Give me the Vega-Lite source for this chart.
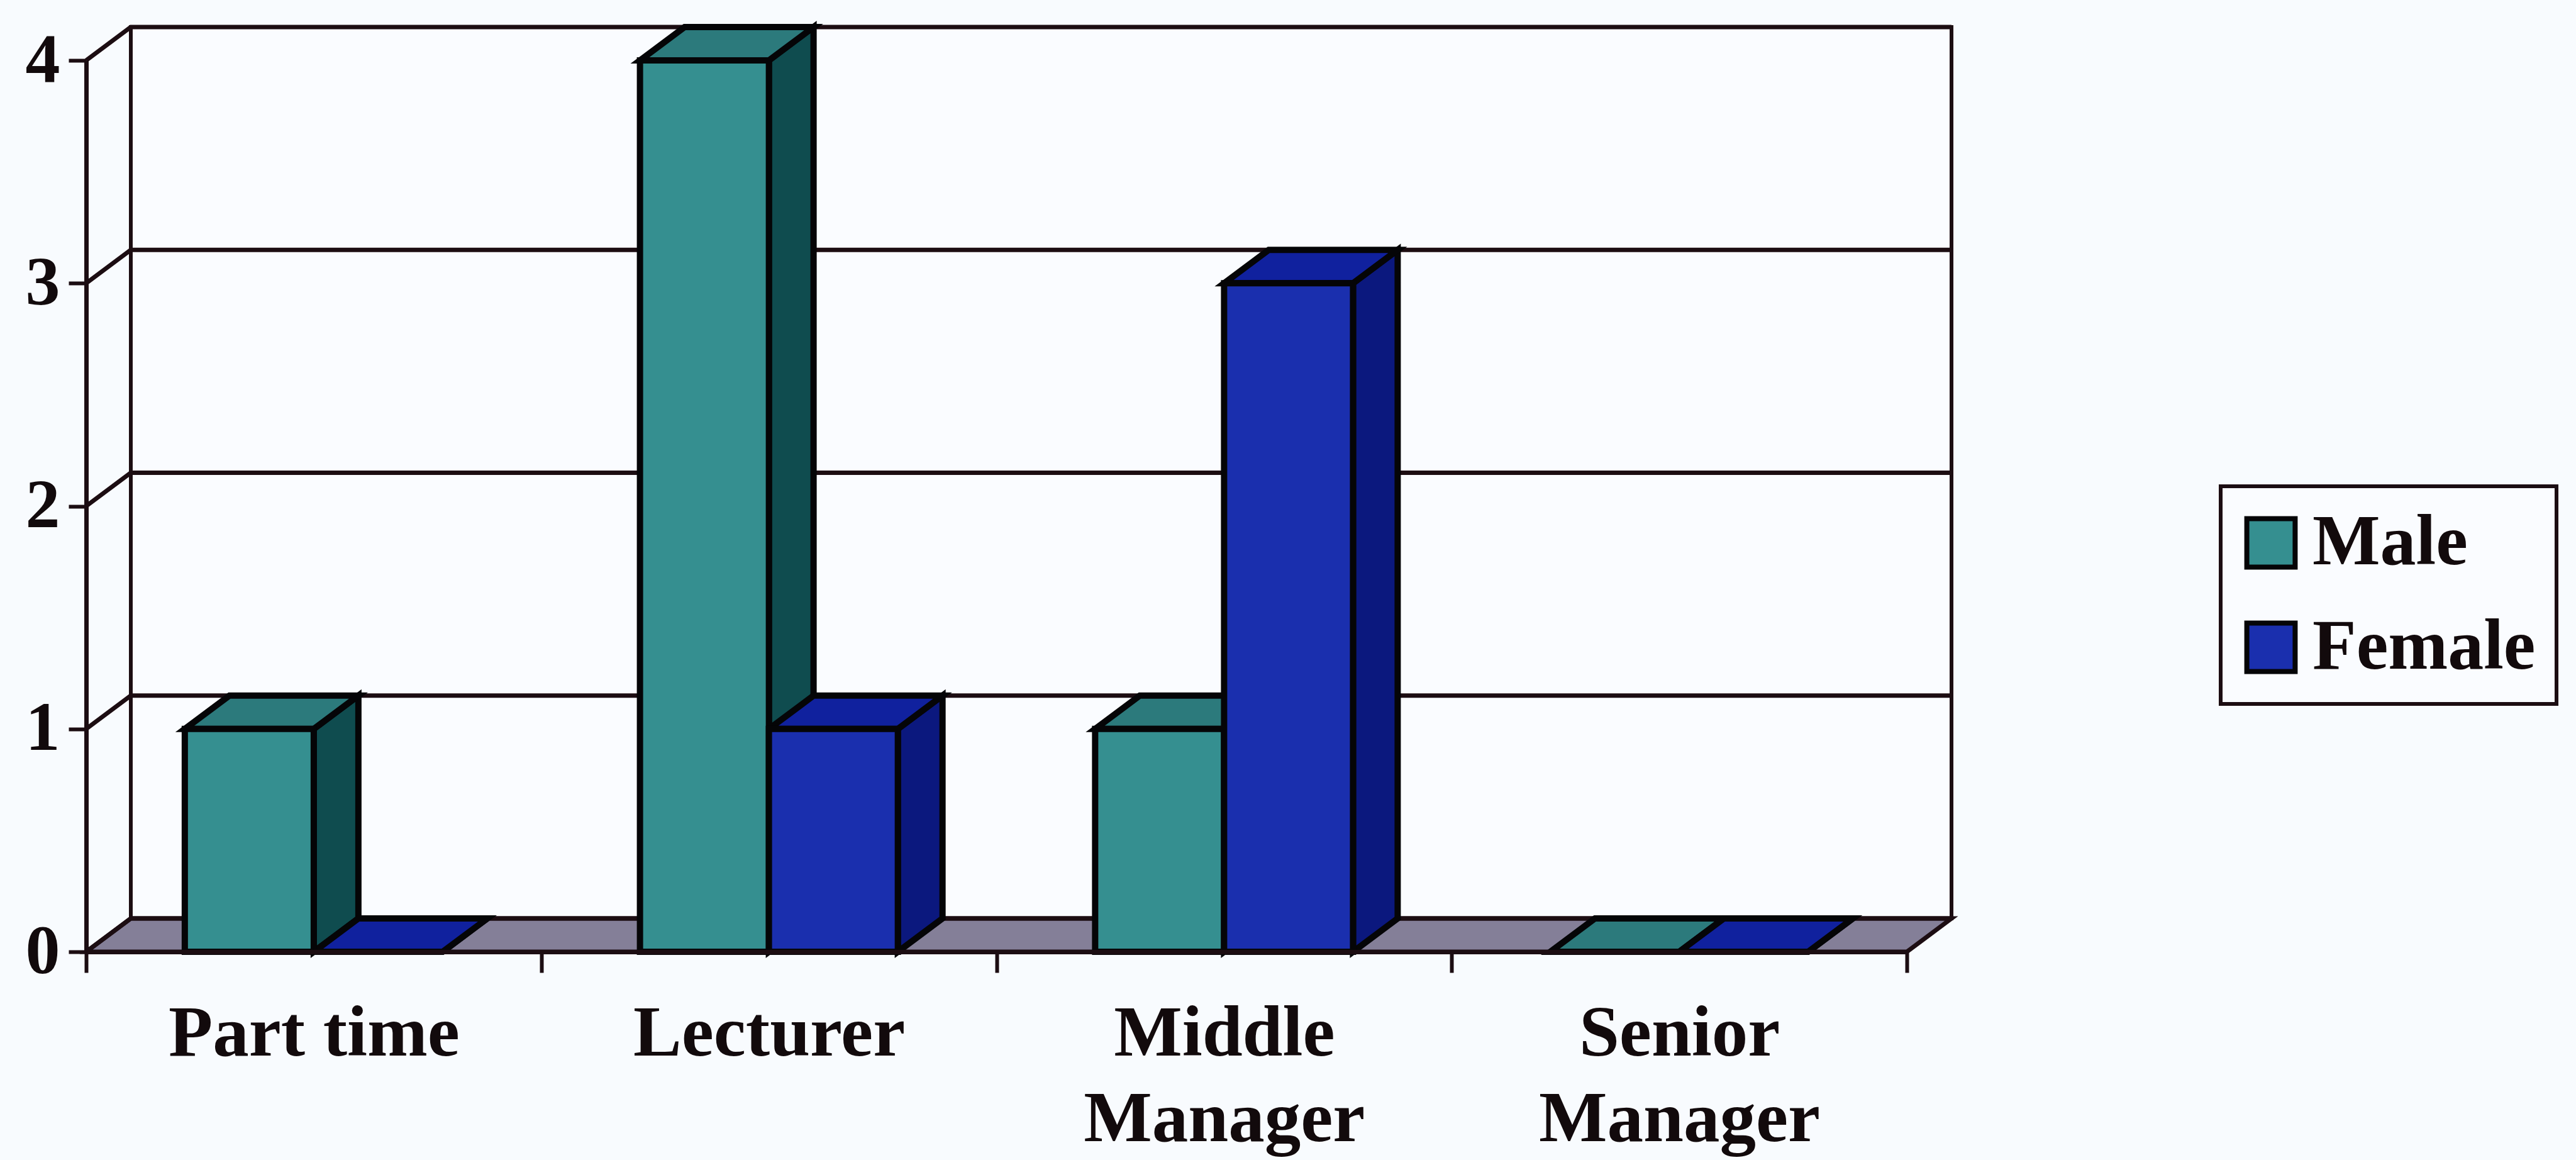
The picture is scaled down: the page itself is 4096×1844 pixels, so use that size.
{
  "$schema": "https://vega.github.io/schema/vega-lite/v6.json",
  "autosize": "none",
  "width": 2895,
  "height": 1417,
  "padding": {"left": 208, "top": 43, "right": 993, "bottom": 384},
  "background": "#f8fbfe",
  "view": {"stroke": "#1c0d12", "strokeWidth": 6, "fill": "#fafcff"},
  "config": {"legend": {"strokeWidth": 6}},
  "datasets": {
    "staff": [
      {"role": "Part time", "gender": "Male", "count": 1},
      {"role": "Part time", "gender": "Female", "count": 0},
      {"role": "Lecturer", "gender": "Male", "count": 4},
      {"role": "Lecturer", "gender": "Female", "count": 1},
      {"role": "Middle Manager", "gender": "Male", "count": 1},
      {"role": "Middle Manager", "gender": "Female", "count": 3},
      {"role": "Senior Manager", "gender": "Male", "count": 0},
      {"role": "Senior Manager", "gender": "Female", "count": 0}
    ],
    "levels": [{"level": 0}, {"level": 1}, {"level": 2}, {"level": 3}, {"level": 4}]
  },
  "layer": [
    {
      "description": "grey floor of the box",
      "data": {"values": [{"level": 0}]},
      "mark": {"type": "point", "filled": true, "opacity": 1, "fill": "#847f98", "stroke": "#1c0d12", "strokeWidth": 7, "size": 4,
        "shape": "M0 0L2895 0L2966 -53L71 -53Z"},
      "encoding": {
        "x": {"datum": "Part time", "type": "nominal", "bandPosition": 0},
        "y": {"field": "level", "type": "quantitative"}
      }
    },
    {
      "description": "one gridline per level: up the left wall, then along the back wall",
      "data": {"name": "levels"},
      "mark": {"type": "point", "filled": false, "opacity": 1, "stroke": "#1c0d12", "strokeWidth": 7, "size": 4,
        "shape": "M0 0L71 -53L2966 -53"},
      "encoding": {
        "x": {"datum": "Part time", "type": "nominal", "bandPosition": 0},
        "y": {"field": "level", "type": "quantitative"}
      }
    },
    {
      "description": "side faces, as tall as the count",
      "data": {"name": "staff"},
      "mark": {"type": "point", "filled": true, "opacity": 1, "stroke": "#050507", "strokeWidth": 10, "size": 4,
        "shape": {"expr": "'M102.5 0L173.5 -53L173.5 '+(scale('y',0)-scale('y',datum.count)-53)+'L102.5 '+(scale('y',0)-scale('y',datum.count))+'Z'"}},
      "encoding": {
        "x": {"field": "role", "type": "nominal"},
        "xOffset": {"field": "gender", "type": "nominal"},
        "y": {"field": "count", "type": "quantitative"},
        "fill": {"field": "gender", "type": "nominal", "legend": null,
          "scale": {"domain": ["Male", "Female"], "range": ["#0f4c4f", "#0b187e"]}}
      }
    },
    {
      "description": "top faces",
      "data": {"name": "staff"},
      "mark": {"type": "point", "filled": true, "opacity": 1, "stroke": "#050507", "strokeWidth": 10, "size": 4,
        "shape": "M-102.5 0L102.5 0L173.5 -53L-31.5 -53Z"},
      "encoding": {
        "x": {"field": "role", "type": "nominal"},
        "xOffset": {"field": "gender", "type": "nominal"},
        "y": {"field": "count", "type": "quantitative"},
        "fill": {"field": "gender", "type": "nominal", "legend": null,
          "scale": {"domain": ["Male", "Female"], "range": ["#2c7a7c", "#10219e"]}}
      }
    },
    {
      "description": "front faces, which also carry the axes and the legend",
      "data": {"name": "staff"},
      "mark": {"type": "bar", "stroke": "#050507", "strokeWidth": 10},
      "encoding": {
        "x": {
          "field": "role", "type": "nominal",
          "scale": {
            "domain": ["Part time", "Lecturer", "Middle Manager", "Senior Manager"],
            "range": [-71, 2824], "paddingInner": 0, "paddingOuter": 0
          },
          "title": null,
          "axis": {
            "orient": "bottom", "offset": 53, "tickBand": "extent", "labelAngle": 0, "zindex": 1,
            "domainColor": "#1c0d12", "domainWidth": 7, "tickColor": "#1c0d12", "tickWidth": 6, "tickSize": 33,
            "labelFont": "Liberation Serif", "labelFontWeight": "bold", "labelFontSize": 115, "labelColor": "#120a0c",
            "labelAlign": "center", "labelPadding": 40, "labelLineHeight": 136, "labelBaseline": "top", "labelFlush": false, "labelOverlap": false, "labelBound": false, "labelLimit": 2000,
            "labelExpr": "datum.label == 'Middle Manager' ? ['Middle', 'Manager'] : datum.label == 'Senior Manager' ? ['Senior', 'Manager'] : datum.label"
          }
        },
        "xOffset": {
          "field": "gender", "type": "nominal",
          "scale": {"domain": ["Male", "Female"], "paddingInner": 0, "paddingOuter": 0.765}
        },
        "y": {
          "field": "count", "type": "quantitative", "stack": null, "title": null,
          "scale": {"domain": [0, 4], "nice": false, "range": [1470, 53]},
          "axis": {
            "orient": "left", "offset": 71, "values": [0, 1, 2, 3, 4], "format": "d", "grid": false,
            "domainColor": "#1c0d12", "domainWidth": 7, "tickColor": "#1c0d12", "tickWidth": 6, "tickSize": 28,
            "labelFont": "Liberation Serif", "labelFontWeight": "bold", "labelFontSize": 110, "labelColor": "#120a0c",
            "labelPadding": 14, "labelFlush": false, "labelOverlap": false, "labelBound": false
          }
        },
        "fill": {
          "field": "gender", "type": "nominal",
          "scale": {"domain": ["Male", "Female"], "range": ["#358f90", "#1a2fae"]},
          "legend": {
            "orient": "none", "legendX": 3323, "legendY": 730, "title": null,
            "strokeColor": "#1c0d12", "fillColor": "#fafcff", "padding": 33,
            "symbolType": "square", "symbolSize": 5900, "symbolStrokeColor": "#050507", "symbolStrokeWidth": 8, "symbolOffset": -10,
            "labelFont": "Liberation Serif", "labelFontWeight": "bold", "labelFontSize": 114, "labelColor": "#120a0c", "labelLimit": 1000,
            "labelOffset": 9, "rowPadding": 52
          }
        }
      }
    }
  ],
  "resolve": {"scale": {"fill": "independent"}}
}
